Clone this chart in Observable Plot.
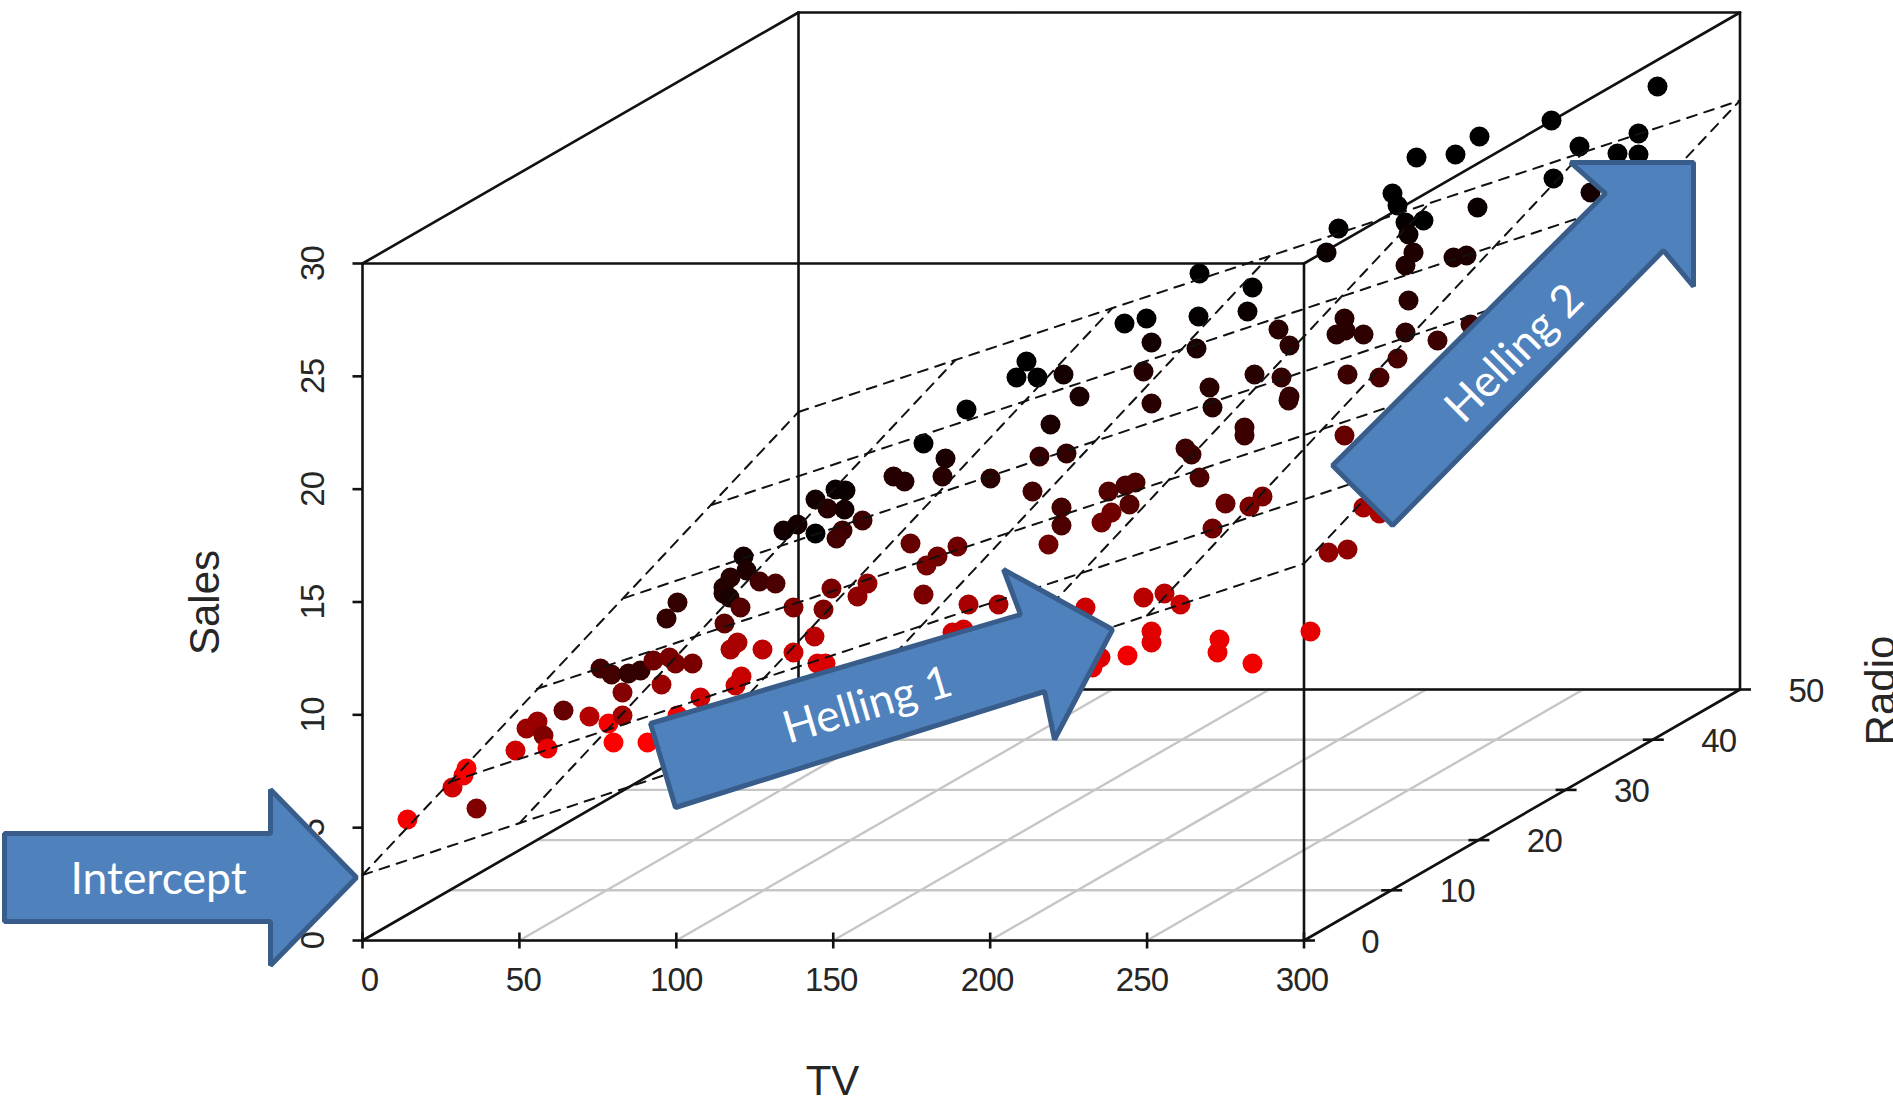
<!DOCTYPE html>
<html><head><meta charset="utf-8">
<style>html,body{margin:0;padding:0;background:#fff;overflow:hidden}svg{display:block}.ticklabel{letter-spacing:-0.8px}</style>
<script src="https://cdn.jsdelivr.net/npm/d3@7"></script>
<script src="https://cdn.jsdelivr.net/npm/@observablehq/plot@0.6"></script>
</head><body><div id="chart"></div>
<script>
// Axis values
const tvTicks = [0, 50, 100, 150, 200, 250, 300];
const radioTicks = [0, 10, 20, 30, 40, 50];
const salesTicks = [0, 5, 10, 15, 20, 25, 30];
// Fitted plane: sales at the ends of each dashed grid line
const planeSalesAtTV0 = [2.9, 4.8, 6.7, 8.5, 10.4, 12.3];      // by radio tick
const planeSalesAtTV300 = [16.7, 18.6, 20.5, 22.4, 24.2, 26.1]; // by radio tick
const planeSalesAtRadio0 = [2.9, 5.2, 7.5, 9.8, 12.0, 14.4, 16.7];    // by tv tick
const planeSalesAtRadio50 = [12.3, 14.6, 16.9, 19.2, 21.4, 23.8, 26.1]; // by tv tick
// Observations as they lie on the oblique picture: across, height, radio (from shade)
const obsAcross = [407,452,463,466,476,515,526,537,543,547,563,589,608,622,613,647,622,600,611,628,640,653,669,675,692,661,700,677,677,666,
 893,904,942,990,815,835,845,827,844,862,783,797,815,842,836,910,957,937,926,743,746,730,723,723,729,759,775,740,724,793,831,823,857,867,923,968,998,814,737,730,762,793,817,825,741,735,
 1050,1151,1212,1288,1039,1066,1032,1061,1061,1048,1108,1125,1135,1129,1111,1101,1185,1191,1244,1244,1199,1225,1249,1262,1212,1085,1143,1164,1180,1151,1151,1127,1100,1092,1219,1217,1252,1310,952,963,
 1199,1252,1124,1146,1198,1247,1151,1196,1278,1289,1026,1016,1037,1063,1143,1079,1209,1254,1281,1289,
 1338,1326,1405,1408,1413,1405,1423,1453,1466,1408,1344,1336,1345,1363,1405,1437,1470,1347,1379,1397,1344,1363,1379,1328,1347,
 1657,1551,1479,1455,1416,1638,1579,1617,1638,1553,1590,1477,1392,1397,966,923,945];
const obsHeight = [819,787,775,768,808,750,728,721,735,748,710,716,723,715,742,742,692,668,674,673,670,660,657,663,663,684,697,715,602,618,
 476,481,476,478,499,489,490,508,509,520,530,524,533,530,538,543,546,556,565,556,570,577,587,593,597,581,583,607,623,607,588,609,596,583,594,604,604,636,642,649,649,652,663,663,676,685,
 424,403,407,400,456,453,491,507,525,544,491,485,482,504,512,522,448,454,427,435,477,503,506,496,528,607,597,593,604,631,642,655,657,667,639,652,663,631,632,629,
 273,287,323,318,316,311,342,348,329,345,361,377,377,374,371,396,387,374,377,396,
 228,252,222,234,252,265,220,257,255,300,318,334,330,334,332,340,324,374,377,358,435,507,513,552,549,
 86,120,136,154,157,133,146,153,154,178,192,207,193,205,409,443,458];
const obsRadio = [2,9,3,1,25,10,20,20,25,4,30,15,2,18,0,0,24,37,37,40,40,28,26,26,26,20,10,3,40,40,
 43,43,42,42,46,48,48,43,46,38,46,46,50,38,37,30,28,28,26,46,44,42,43,43,45,37,35,34,32,25,26,25,22,22,26,17,17,14,17,17,13,11,7,7,11,11,
 45,42,42,40,40,40,37,37,35,28,34,35,35,34,28,28,38,38,38,38,35,30,26,26,28,10,14,14,10,6,6,3,6,4,4,4,2,5,9,9,
 50,49,50,50,49,48,46,45,42,42,50,50,50,46,43,45,42,42,40,40,
 49,48,49,47,44,44,50,44,44,42,42,42,42,41,41,38,38,38,36,36,30,17,16,22,22,
 50,50,50,50,50,50,50,50,50,50,46,48,50,50,50,50,45];
// PowerPoint call-out outlines, on the same picture frame
const interceptAcross = [4,270,270,356,270,270,4];
const interceptHeight = [833,833,789,877,965,921,921];
const helling1Across = [650,1020,1003,1112,1054,1044,675];
const helling1Height = [723,614,569,629,739,691,807];
const helling2Across = [1693,1570,1605,1332,1392,1663,1693];
const helling2Height = [162,162,193,465,525,250,286];

// Oblique projection of the scatterplot3d box onto the picture frame
const left = 362, floorY = 940, tvUnit = 941.5 / 300, radioAcross = 436 / 50, radioUp = 251 / 50, salesUp = 677 / 30;
const px = (tv, radio) => left + tv * tvUnit + radio * radioAcross;
const py = (radio, sales) => floorY - radio * radioUp - sales * salesUp;
const seg = (list) => list.map(([tv, radio, sales, id]) => ({x: px(tv, radio), y: py(radio, sales), id}));
const pairs = (a, b, id) => [[...a, id], [...b, id]];

const boxLines = seg([
  ...pairs([0,0,0],[300,0,0],"a"), ...pairs([0,0,30],[300,0,30],"b"), ...pairs([0,0,0],[0,0,30],"c"),
  ...pairs([300,0,0],[300,0,30],"d"), ...pairs([0,50,0],[300,50,0],"e"), ...pairs([0,50,30],[300,50,30],"f"),
  ...pairs([0,50,0],[0,50,30],"g"), ...pairs([300,50,0],[300,50,30],"h"), ...pairs([0,0,0],[0,50,0],"i"),
  ...pairs([300,0,0],[300,50,0],"j"), ...pairs([0,0,30],[0,50,30],"k"), ...pairs([300,0,30],[300,50,30],"l")]);
const floorLines = seg([
  ...tvTicks.flatMap((t, i) => pairs([t,0,0],[t,50,0],"t"+i)),
  ...radioTicks.flatMap((r, i) => pairs([0,r,0],[300,r,0],"r"+i))]);
const planeLines = seg([
  ...radioTicks.flatMap((r, i) => pairs([0,r,planeSalesAtTV0[i]],[300,r,planeSalesAtTV300[i]],"pr"+i)),
  ...tvTicks.flatMap((t, i) => pairs([t,0,planeSalesAtRadio0[i]],[t,50,planeSalesAtRadio50[i]],"pt"+i))]);
const obs = obsAcross.map((x, i) => ({x, y: obsHeight[i], radio: obsRadio[i]}));
const outline = (xs, ys) => xs.map((x, i) => ({x, y: ys[i]}));

const tvLabelNudge = [5, 2, -2, -4, -5, -7, -4];
const tickFont = {fontFamily: "Liberation Sans", fontSize: 33, fill: "#262626", className: "ticklabel"};
const labelFont = {fontFamily: "Liberation Sans", fontSize: 42, fill: "#262626"};
const calloutFont = {fontFamily: "Lato", fontSize: 44.5, fill: "#fff"};
const arrowStyle = {x: "x", y: "y", curve: "linear-closed", fill: "#4f81bd", stroke: "#385d8a", strokeWidth: 5, strokeLinejoin: "miter"};

const chart = Plot.plot({
  width: 1893, height: 1103, margin: 0,
  x: {domain: [0, 1893], range: [0, 1893], axis: null},
  y: {domain: [1103, 0], range: [1103, 0], axis: null},
  color: {type: "linear", domain: [0, 50], range: ["#ff0000", "#000000"]},
  style: {background: "#fff"},
  marks: [
    Plot.line(floorLines, {x: "x", y: "y", z: "id", stroke: "#c6c6c6", strokeWidth: 2.4}),
    Plot.line(boxLines, {x: "x", y: "y", z: "id", stroke: "#111", strokeWidth: 2.6}),
    // ticks
    Plot.link(tvTicks, {x1: t => px(t, 0), x2: t => px(t, 0), y1: py(0, 0) - 8, y2: py(0, 0) + 8, stroke: "#111", strokeWidth: 2.6}),
    Plot.link(salesTicks, {x1: left - 10, x2: left, y1: s => py(0, s), y2: s => py(0, s), stroke: "#111", strokeWidth: 2.6}),
    Plot.link(radioTicks, {x1: r => px(300, r) - (r > 0 && r < 50 ? 10 : 0), x2: r => px(300, r) + 11, y1: r => py(r, 0), y2: r => py(r, 0), stroke: "#111", strokeWidth: 2.6}),
    // tick labels and titles
    Plot.text(tvTicks, {x: (t, i) => px(t, 0) + 2 + tvLabelNudge[i], y: 980, text: d => String(d), ...tickFont}),
    Plot.text(salesTicks, {x: 313, y: s => py(0, s), text: d => String(d), rotate: -90, ...tickFont}),
    Plot.text(radioTicks, {x: r => px(300, r) + 66, y: r => py(r, 0) + 1.5, text: d => String(d), ...tickFont}),
    Plot.text(["TV"], {x: 832, y: 1081, text: d => d, ...labelFont}),
    Plot.text(["Sales"], {x: 205, y: 602, text: d => d, rotate: -90, ...labelFont}),
    Plot.text(["Radio"], {x: 1881, y: 690, text: d => d, rotate: -90, ...labelFont}),
    // observations and the fitted plane
    Plot.dot(obs, {x: "x", y: "y", r: 10, fill: "radio", stroke: "none"}),
    Plot.line(planeLines, {x: "x", y: "y", z: "id", stroke: "#111", strokeWidth: 2, strokeDasharray: "10,8"}),
    // call-outs
    Plot.line(outline(interceptAcross, interceptHeight), arrowStyle),
    Plot.line(outline(helling1Across, helling1Height), arrowStyle),
    Plot.line(outline(helling2Across, helling2Height), arrowStyle),
    Plot.text(["Intercept"], {x: 158, y: 879, text: d => d, ...calloutFont}),
    Plot.text(["Helling 1"], {x: 867, y: 705, text: d => d, rotate: -16.5, ...calloutFont}),
    Plot.text(["Helling 2"], {x: 1514, y: 353, text: d => d, rotate: -45, ...calloutFont})
  ]
});
document.getElementById("chart").append(chart);
</script></body></html>
